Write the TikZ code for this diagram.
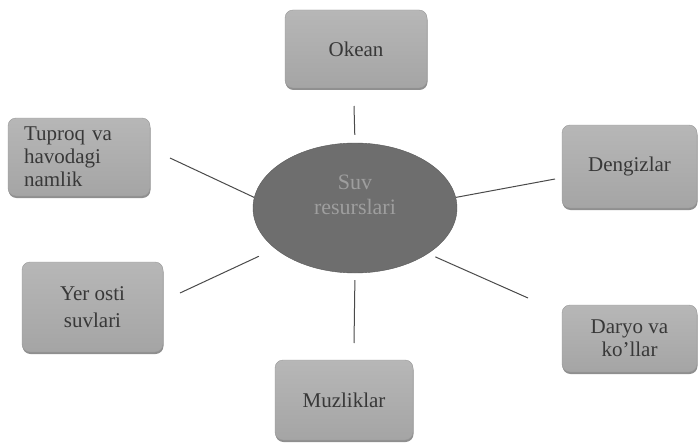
\documentclass[tikz,border=0pt]{standalone}
\usepackage{fontspec}
\setmainfont{Liberation Serif}
\usetikzlibrary{shapes.geometric, shadows}

\definecolor{boxfill}{HTML}{B3B3B3}
\definecolor{boxedge}{HTML}{989898}
\definecolor{corefill}{HTML}{6E6E6E}
\definecolor{coretext}{HTML}{9E9E9E}
\definecolor{linkcol}{HTML}{4A4A4A}

\begin{document}
\begin{tikzpicture}[
          x=1pt, y=-1pt,
          box/.style={
            draw=boxedge, top color=boxfill!95, bottom color=boxfill!92!black,
            rounded corners=8pt, inner sep=0pt, align=center,
            text=black!78, font=\fontsize{21}{23}\selectfont,
            drop shadow={shadow xshift=0.5pt, shadow yshift=-2pt, fill=black!55, opacity=0.8}
          },
          core/.style={
            ellipse, draw=corefill!80!black, fill=corefill,
            minimum width=204pt, minimum height=130pt, inner sep=0pt
          },
          link/.style={draw=linkcol, line width=1pt}
        ]
          \useasboundingbox (0,0) rectangle (699,444);

          \node[core] (suv) at (355,208) {};
          \node[text=coretext, align=center, font=\fontsize{22}{25}\selectfont]
            (suvtxt) at (355,195) {Suv\\resurslari};

          \node[box, minimum width=142pt, minimum height=78pt] (okean) at (356,49) {Okean};
          \node[box, minimum width=142pt, minimum height=78pt, align=left,
                text width=110pt, inner xsep=16pt] (tuproq) at (79,157)
            {Tuproq va\\havodagi\\namlik};
          \node[box, minimum width=135pt, minimum height=83pt] (dengiz) at (629.5,166.5) {Dengizlar};
          \node[box, minimum width=141pt, minimum height=90pt] (yerosti) at (92.5,307)
            {Yer osti\\[4pt]suvlari};
          \node[box, minimum width=135pt, minimum height=67pt] (daryo) at (629.5,338.5)
            {Daryo va\\ko’llar};
          \node[box, minimum width=138pt, minimum height=80pt] (muz) at (344,400) {Muzliklar};

          % free ends of the spokes
          \coordinate (okeanEnd) at (354,106);
          \coordinate (tuproqEnd) at (170,158);
          \coordinate (dengizEnd) at (555,179);
          \coordinate (yerostiEnd) at (180,293);
          \coordinate (daryoEnd) at (528,298);
          \coordinate (muzEnd) at (354,343);

          \draw[link, shorten <=8pt] (suv.north) -- (okeanEnd);
          \draw[link] (suv.174) -- (tuproqEnd);
          \draw[link] (suv.6) -- (dengizEnd);
          \draw[link, shorten <=18pt] (suv.207) -- (yerostiEnd);
          \draw[link, shorten <=8pt] (suv.-32) -- (daryoEnd);
          \draw[link, shorten <=7pt] (suv.south) -- (muzEnd);
        \end{tikzpicture}
\end{document}
